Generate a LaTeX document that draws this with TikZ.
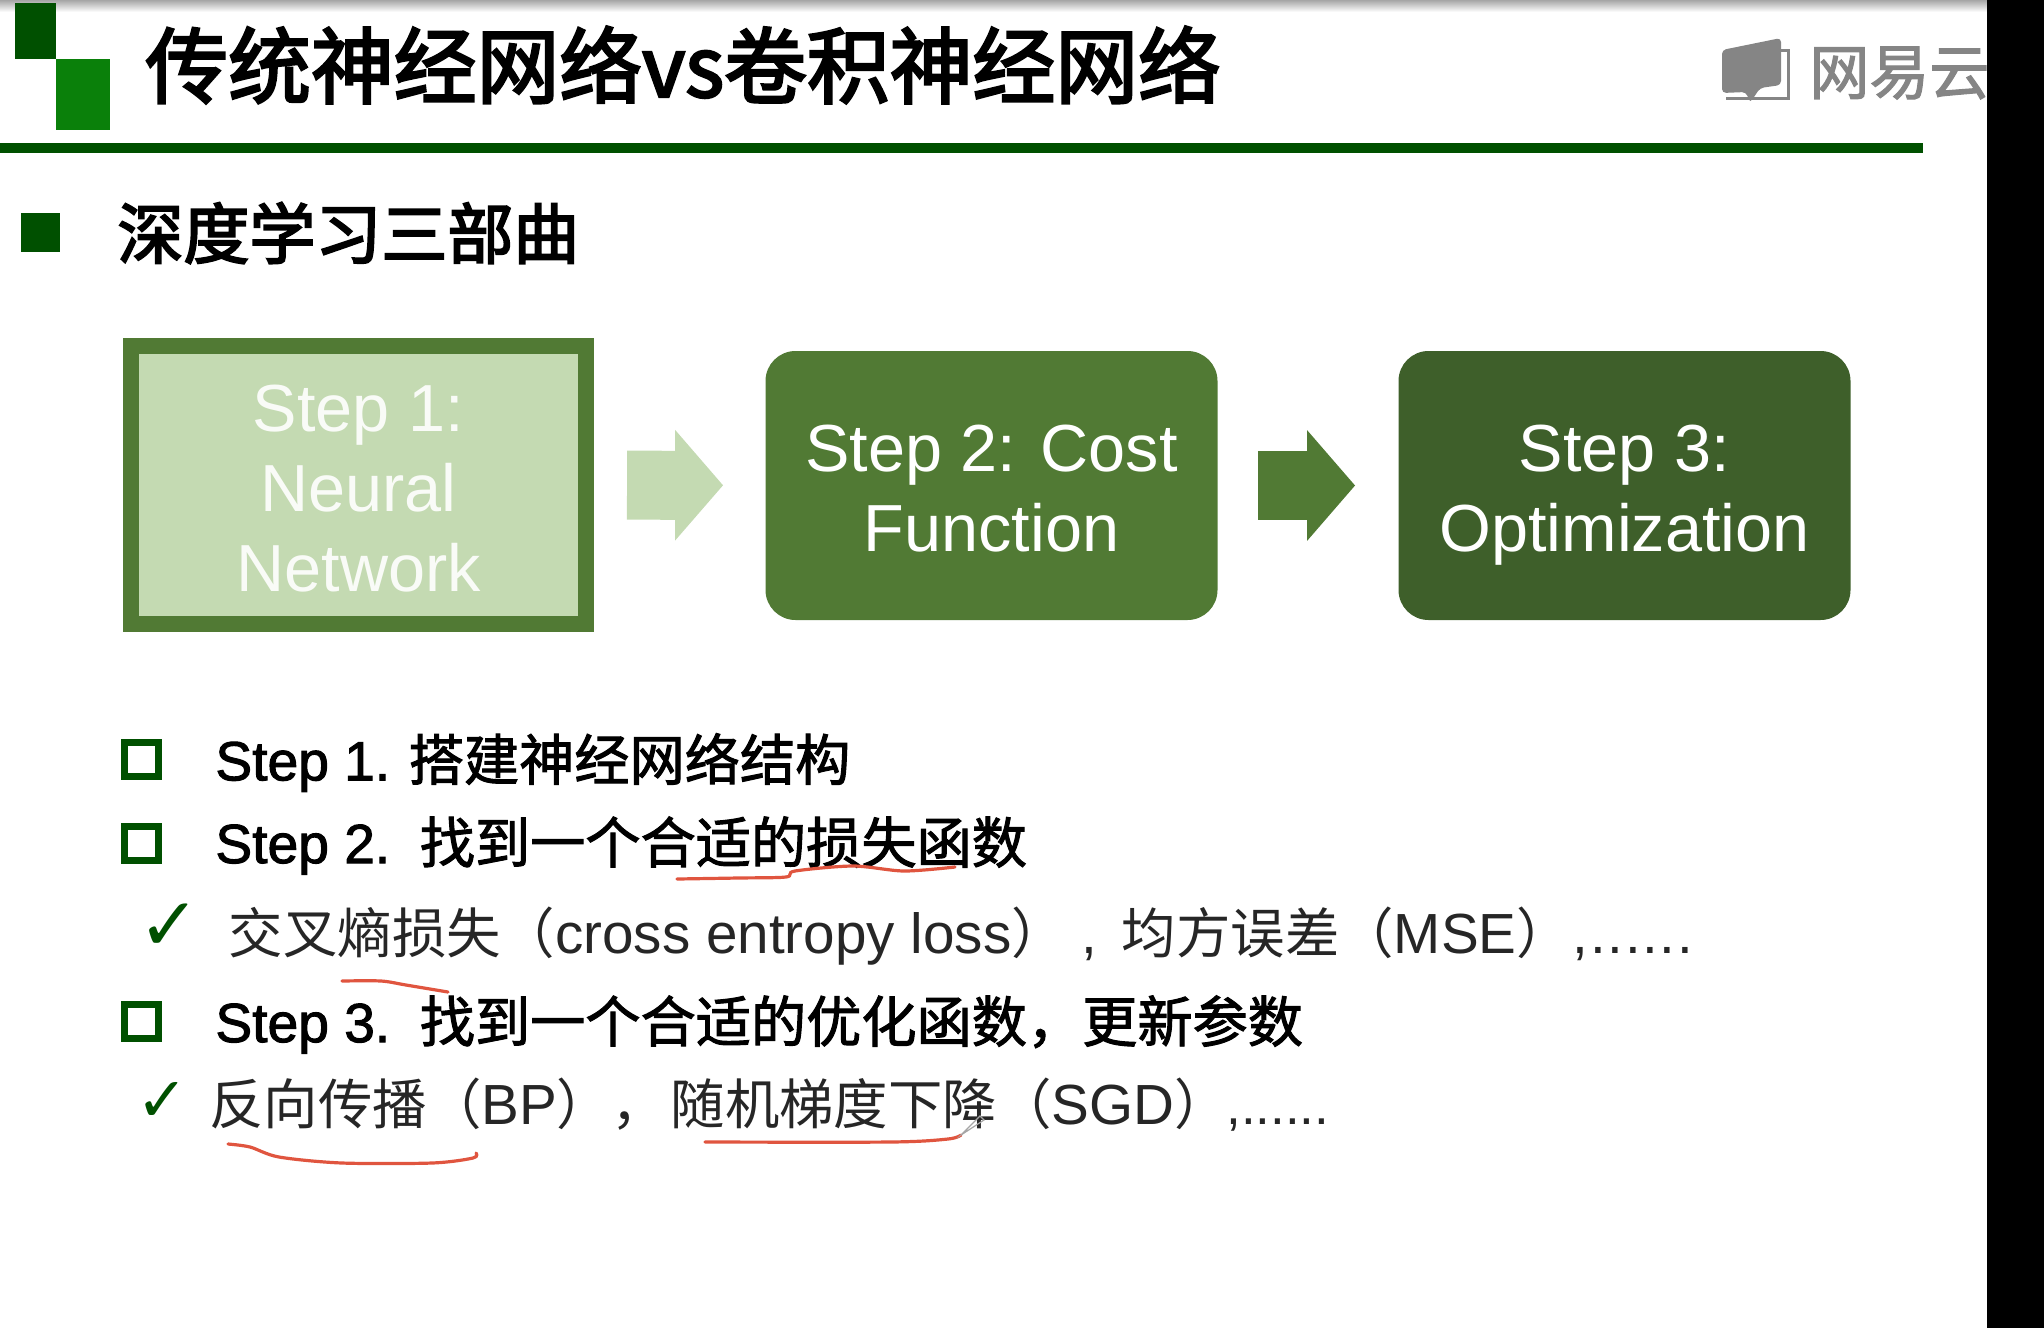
\documentclass[tikz,border=0pt]{standalone}
\usepackage{fontspec}
\usepackage{xcolor}
\usetikzlibrary{arrows.meta}
\setmainfont{Liberation Sans}
\newfontfamily\zh{Noto Sans CJK SC}
\newfontfamily\zhtitle[FakeBold=3]{Noto Sans CJK SC}
\newfontfamily\zhmed[FakeBold=1.8]{Noto Sans CJK SC}
\newfontfamily\latmed[FakeBold=1.8]{Liberation Sans}
\newfontfamily\latwide[LetterSpace=3]{Liberation Sans}
\newfontfamily\dejavu{DejaVu Sans}
\newcommand{\lat}[1]{{\rmfamily\fontsize{28.3}{32}\selectfont #1}}
\newcommand{\boxtop}{\rule{0pt}{26.4pt}}
\definecolor{darkleaf}{HTML}{005000}
\definecolor{midleaf}{HTML}{0A800A}
\definecolor{stepone}{HTML}{C4DAB2}
\definecolor{steptwo}{HTML}{517A34}
\definecolor{stepthree}{HTML}{3E5F2A}
\definecolor{logogray}{HTML}{858585}
\definecolor{pen}{HTML}{E0553F}

\begin{document}
\begin{tikzpicture}[
        x=0.5pt, y=-0.5pt,
        every node/.style={inner sep=0pt},
        stepbox/.style={align=center, text=white, rounded corners=15pt,
                minimum width=226pt, minimum height=134.5pt,
                font=\fontsize{33.3}{40}\selectfont},
        blockarrow/.style={line width=34.5pt, -{Triangle[length=24pt,width=54pt]}},
        mainline/.style={anchor=west, font=\fontsize{27.6}{32}\selectfont},
        subline/.style={anchor=west, text=black!85, font=\fontsize{27.2}{32}\selectfont},
        listbox/.style={draw=darkleaf, line width=3.5pt, minimum width=17pt, minimum height=17pt},
        tick/.style={text=darkleaf, font=\dejavu\fontsize{37}{40}\selectfont},
        penline/.style={draw=pen, line width=1.6pt, line cap=round}
    ]
    \useasboundingbox (0,0) rectangle (2044,1328);
    \shade[top color=black!35, bottom color=white] (0,0) rectangle (2044,12);

    \fill[darkleaf] (15,3) rectangle (56,59);
    \fill[midleaf] (56,59) rectangle (110,130);
    \fill[darkleaf] (0,143) rectangle (1923,153);
    \node[anchor=west, font=\zhtitle\fontsize{41.4}{48}\selectfont] (title) at (145,65)
        {传统神经网络vs卷积神经网络};

    \fill[logogray, rounded corners=2pt] (1722,50) -- (1781,38) -- (1781,85) -- (1760,88)
        -- (1750,103) -- (1746,92) -- (1722,93) -- cycle;
    \draw[logogray, line width=1.5pt] (1781,50) -- (1788,50) -- (1788,98) -- (1726,98);
    \node[anchor=west, text=logogray, font=\zhmed\fontsize{30}{36}\selectfont] (logo) at (1809,73) {网易云};

    \node[fill=darkleaf, minimum width=19.5pt, minimum height=19.5pt] (headbullet) at (40.5,232.5) {};
    \node[anchor=west, font=\zhtitle\fontsize{33}{40}\selectfont] (heading) at (117,233) {深度学习三部曲};

    \node[stepbox, rounded corners=0pt, fill=stepone, draw=steptwo, line width=8pt,
        minimum width=227.5pt, minimum height=139pt, text=white!90!stepone] (neural) at (358.5,485)
        {\boxtop Step 1:\\Neural\\Network};
    \node[stepbox, fill=steptwo] (cost) at (991.5,485.5) {\boxtop Step 2: Cost\\Function};
    \node[stepbox, fill=stepthree] (optim) at (1624.5,485.5)
        {\boxtop Step 3:\\\raisebox{0pt}[\height][0pt]{Optimization}};

    \draw[blockarrow, stepone, shorten <=16.5pt, shorten >=21pt] (neural) -- (cost);
    \draw[blockarrow, steptwo, shorten <=20pt, shorten >=21.5pt] (cost) -- (optim);

    \node[listbox] (boxone) at (141,759.5) {};
    \node[listbox] (boxtwo) at (141,843) {};
    \node[listbox] (boxthree) at (141,1021) {};
    \node[tick] (tickone) at (170,927) {✓};
    \node[tick, font=\dejavu\fontsize{31}{34}\selectfont] (ticktwo) at (162,1102) {✓};

    \node[mainline] (stepone) at (215,762.5) {\latmed Step 1.\hspace{-1pt} \zhmed 搭建神经网络结构};
    \node[mainline] (steptwo) at (215,845.5) {\latmed Step 2.\hspace{4.5pt} \zhmed 找到一个合适的损失函数};
    \node[subline] (lossline) at (228.5,936.5)
        {\zh 交叉熵损失（\lat{cross entropy loss}）\lat{\ ,\hspace{4.5pt} }均方误差（\lat{MSE}）\hspace{-7pt}\lat{\ \latwide ,......}};
    \node[mainline] (stepthree) at (215,1024.5) {\latmed Step 3.\hspace{4.5pt} \zhmed 找到一个合适的优化函数，更新参数};
    \node[subline] (optimline) at (209,1105)
        {\zh 反向传播（\lat{BP}），\hspace{2.5pt}随机梯度下降（\lat{SGD}）\hspace{-8.5pt}{\rmfamily\fontsize{26.5}{32}\selectfont\ ,......}};

    \draw[penline] plot[smooth] coordinates {(677,879) (738,878) (786,877) (795,871) (853,866) (904,871) (955,867)};
    \draw[penline] plot[smooth] coordinates {(342,981) (381,981) (406,985) (448,992)};
    \draw[penline] plot[smooth] coordinates {(228,1144) (250,1147) (279,1157) (342,1163) (432,1163) (473,1158) (476,1153)};
    \draw[penline] plot[smooth] coordinates {(705,1142) (891,1142) (948,1139) (961,1135)};
    \draw[black!35, line width=0.6pt] (961,1135) -- (980,1116) -- (984,1120) -- cycle;

    \fill[black] (1987,0) rectangle (2044,1328);
\end{tikzpicture}
\end{document}
